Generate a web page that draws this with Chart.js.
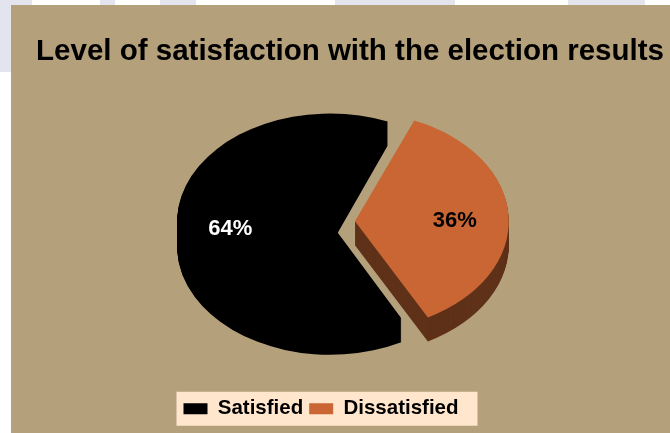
<!DOCTYPE html>
<html>
<head>
<meta charset="utf-8">
<script src="https://cdn.jsdelivr.net/npm/chart.js@4.4.1/dist/chart.umd.min.js"></script>
<style>
  html, body { margin: 0; padding: 0; background: #ffffff; overflow: hidden; }
  #wrap { position: relative; width: 670px; height: 433px; }
  .wm { position: absolute; background: #e4e4ee; }
  #panel { position: absolute; left: 11px; top: 5px; width: 659px; height: 428px; background: #b4a07b; }
  #chart { position: absolute; left: 0; top: 0; }
</style>
</head>
<body>
<div id="wrap">
  <div class="wm" style="left:0;top:0;width:32px;height:5px"></div>
  <div class="wm" style="left:0;top:0;width:11px;height:72px"></div>
  <div class="wm" style="left:100px;top:0;width:15px;height:5px"></div>
  <div class="wm" style="left:160px;top:0;width:36px;height:5px"></div>
  <div class="wm" style="left:335px;top:0;width:120px;height:5px"></div>
  <div class="wm" style="left:568px;top:0;width:77px;height:5px"></div>
  <div id="panel"></div>
  <canvas id="chart" width="670" height="433"></canvas>
</div>
<script>
'use strict'
const categories = ['Satisfied', 'Dissatisfied']
const shares = [64, 36]

const topColors = ['#000000', '#c96633']
const sideColors = ['#000000', '#5e3118']
const labelColors = ['#ffffff', '#000000']

const PIE_X = 334
const PIE_Y = 222
const TILT = 0.71
const DEPTH = 24
const LEGEND_SHIFT = -29
const FONT = "'Liberation Sans', Arial, sans-serif"

// squash the pie into an ellipse and stack copies below it for the 3d side
const tilt3d = {
  id: 'tilt3d',
  beforeDraw(chart) {
    const ctx = chart.ctx
    const boxes = chart.legend.legendHitBoxes
    if (!boxes || !boxes.length) return
    const first = boxes[0]
    const last = boxes[boxes.length - 1]
    const mid = first.top + first.height / 2
    ctx.save()
    ctx.fillStyle = '#ffe6cc'
    ctx.fillRect(first.left - 7, mid - 17, last.left + last.width - first.left + 26, 34)
    ctx.restore()
  },
  afterLayout(chart) {
    chart.legend.left += LEGEND_SHIFT
    chart.legend.right += LEGEND_SHIFT
  },
  beforeDatasetsDraw(chart) {
    const ctx = chart.ctx
    const arcs = chart.getDatasetMeta(0).data
    const cx = arcs[0].x
    const cy = arcs[0].y
    for (let d = DEPTH; d >= 0; d--) {
      ctx.save()
      ctx.translate(PIE_X, PIE_Y + d)
      ctx.scale(1, TILT)
      ctx.translate(-cx, -cy)
      arcs.forEach((arc, i) => {
        const opts = arc.options
        if (d > 0) {
          arc.options = Object.assign({}, opts, { backgroundColor: sideColors[i] })
        }
        arc.draw(ctx)
        arc.options = opts
      })
      ctx.restore()
    }
    return false
  },
  afterDraw(chart) {
    const ctx = chart.ctx
    const arcs = chart.getDatasetMeta(0).data
    const cx = arcs[0].x
    const cy = arcs[0].y
    ctx.save()
    ctx.font = 'bold 22px ' + FONT
    ctx.textAlign = 'center'
    ctx.textBaseline = 'middle'
    arcs.forEach((arc, i) => {
      const mid = (arc.startAngle + arc.endAngle) / 2
      const r = arc.outerRadius * 0.67 + (arc.options.offset || 0) / 4
      const px = cx + Math.cos(mid) * r
      const py = cy + Math.sin(mid) * r
      ctx.fillStyle = labelColors[i]
      ctx.fillText(shares[i] + '%', PIE_X + (px - cx), PIE_Y + (py - cy) * TILT + 3)
    })
    ctx.restore()
  },
}

const chartCtx = document.getElementById('chart').getContext('2d')
const chartInstance = new Chart(chartCtx, {
  type: 'pie',
  data: {
    labels: categories,
    datasets: [
      {
        data: shares,
        backgroundColor: topColors,
        borderWidth: 0,
        offset: [16, 84],
        radius: 149,
      },
    ],
  },
  options: {
    responsive: false,
    animation: false,
    events: [],
    rotation: 152,
    layout: {
      padding: { left: 30, right: 0, top: 0, bottom: 4 },
    },
    plugins: {
      title: {
        display: true,
        text: 'Level of satisfaction with the election results',
        color: '#000000',
        font: { family: FONT, size: 29.5, weight: 'bold' },
        padding: { top: 34, bottom: 10 },
      },
      legend: {
        position: 'bottom',
        labels: {
          color: '#000000',
          font: { family: FONT, size: 20.5, weight: 'bold' },
          boxWidth: 24,
          boxHeight: 11,
          padding: 6,
        },
      },
      tooltip: { enabled: false },
    },
  },
  plugins: [tilt3d],
})
</script>
</body>
</html>
